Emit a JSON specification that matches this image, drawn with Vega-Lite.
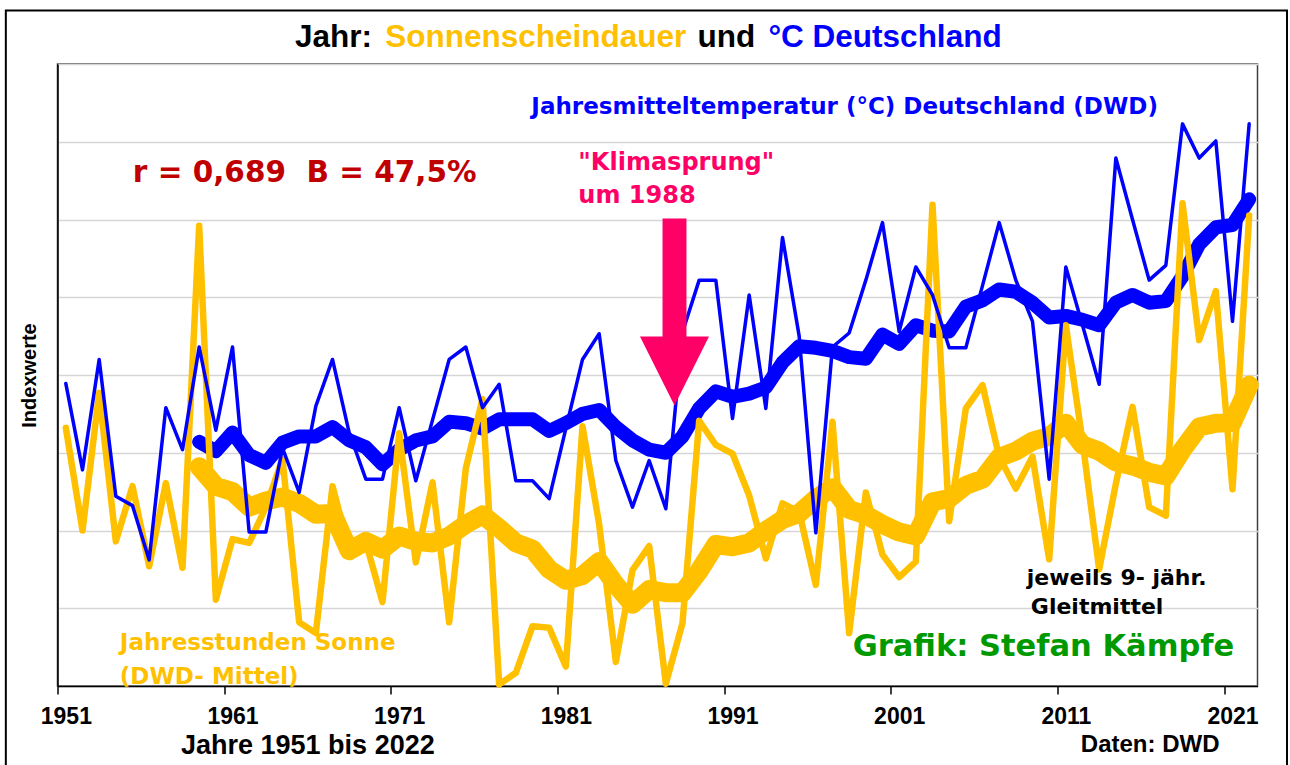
{
  "$schema": "https://vega.github.io/schema/vega-lite/v6.json",
  "width": 1200,
  "height": 622,
  "autosize": {"type": "none"},
  "padding": {"left": 57.5, "top": 64, "right": 32.5, "bottom": 79},
  "background": "white",
  "config": {"view": {"stroke": "#404040", "strokeWidth": 1.5}, "font": "Liberation Sans"},
  "datasets": {
    "series": [
      {"year": 1951, "temp": 3.89, "sun": 3.32, "tempAvg": null, "sunAvg": null},
      {"year": 1952, "temp": 2.78, "sun": 2.00, "tempAvg": null, "sunAvg": null},
      {"year": 1953, "temp": 4.20, "sun": 3.77, "tempAvg": null, "sunAvg": null},
      {"year": 1954, "temp": 2.44, "sun": 1.86, "tempAvg": null, "sunAvg": null},
      {"year": 1955, "temp": 2.32, "sun": 2.57, "tempAvg": null, "sunAvg": null},
      {"year": 1956, "temp": 1.62, "sun": 1.54, "tempAvg": null, "sunAvg": null},
      {"year": 1957, "temp": 3.58, "sun": 2.61, "tempAvg": null, "sunAvg": null},
      {"year": 1958, "temp": 3.04, "sun": 1.52, "tempAvg": null, "sunAvg": null},
      {"year": 1959, "temp": 4.36, "sun": 5.92, "tempAvg": 3.14, "sunAvg": 2.82},
      {"year": 1960, "temp": 3.29, "sun": 1.11, "tempAvg": 3.02, "sunAvg": 2.57},
      {"year": 1961, "temp": 4.36, "sun": 1.89, "tempAvg": 3.26, "sunAvg": 2.50},
      {"year": 1962, "temp": 1.98, "sun": 1.84, "tempAvg": 2.97, "sunAvg": 2.30},
      {"year": 1963, "temp": 1.98, "sun": 2.30, "tempAvg": 2.87, "sunAvg": 2.38},
      {"year": 1964, "temp": 3.06, "sun": 2.92, "tempAvg": 3.13, "sunAvg": 2.43},
      {"year": 1965, "temp": 2.49, "sun": 0.82, "tempAvg": 3.21, "sunAvg": 2.35},
      {"year": 1966, "temp": 3.60, "sun": 0.68, "tempAvg": 3.21, "sunAvg": 2.21},
      {"year": 1967, "temp": 4.20, "sun": 2.57, "tempAvg": 3.33, "sunAvg": 2.22},
      {"year": 1968, "temp": 3.26, "sun": 1.75, "tempAvg": 3.16, "sunAvg": 1.74},
      {"year": 1969, "temp": 2.66, "sun": 1.85, "tempAvg": 3.07, "sunAvg": 1.86},
      {"year": 1970, "temp": 2.66, "sun": 1.08, "tempAvg": 2.85, "sunAvg": 1.76},
      {"year": 1971, "temp": 3.58, "sun": 3.25, "tempAvg": 3.04, "sunAvg": 1.93},
      {"year": 1972, "temp": 2.64, "sun": 1.59, "tempAvg": 3.16, "sunAvg": 1.86},
      {"year": 1973, "temp": 3.42, "sun": 2.62, "tempAvg": 3.21, "sunAvg": 1.84},
      {"year": 1974, "temp": 4.20, "sun": 0.82, "tempAvg": 3.40, "sunAvg": 1.93},
      {"year": 1975, "temp": 4.36, "sun": 2.80, "tempAvg": 3.38, "sunAvg": 2.08},
      {"year": 1976, "temp": 3.58, "sun": 3.69, "tempAvg": 3.31, "sunAvg": 2.20},
      {"year": 1977, "temp": 3.88, "sun": 0.02, "tempAvg": 3.43, "sunAvg": 2.03},
      {"year": 1978, "temp": 2.64, "sun": 0.17, "tempAvg": 3.43, "sunAvg": 1.84},
      {"year": 1979, "temp": 2.64, "sun": 0.77, "tempAvg": 3.43, "sunAvg": 1.76},
      {"year": 1980, "temp": 2.41, "sun": 0.75, "tempAvg": 3.28, "sunAvg": 1.50},
      {"year": 1981, "temp": 3.31, "sun": 0.25, "tempAvg": 3.38, "sunAvg": 1.36},
      {"year": 1982, "temp": 4.20, "sun": 3.34, "tempAvg": 3.50, "sunAvg": 1.42},
      {"year": 1983, "temp": 4.53, "sun": 2.08, "tempAvg": 3.55, "sunAvg": 1.60},
      {"year": 1984, "temp": 2.90, "sun": 0.31, "tempAvg": 3.33, "sunAvg": 1.30},
      {"year": 1985, "temp": 2.30, "sun": 1.49, "tempAvg": 3.16, "sunAvg": 1.05},
      {"year": 1986, "temp": 2.90, "sun": 1.80, "tempAvg": 3.04, "sunAvg": 1.24},
      {"year": 1987, "temp": 2.28, "sun": 0.03, "tempAvg": 3.00, "sunAvg": 1.20},
      {"year": 1988, "temp": 4.55, "sun": 0.81, "tempAvg": 3.21, "sunAvg": 1.20},
      {"year": 1989, "temp": 5.22, "sun": 3.41, "tempAvg": 3.57, "sunAvg": 1.48},
      {"year": 1990, "temp": 5.22, "sun": 3.10, "tempAvg": 3.79, "sunAvg": 1.82},
      {"year": 1991, "temp": 3.44, "sun": 2.99, "tempAvg": 3.72, "sunAvg": 1.79},
      {"year": 1992, "temp": 5.03, "sun": 2.45, "tempAvg": 3.76, "sunAvg": 1.84},
      {"year": 1993, "temp": 3.57, "sun": 1.64, "tempAvg": 3.84, "sunAvg": 2.00},
      {"year": 1994, "temp": 5.77, "sun": 2.35, "tempAvg": 4.16, "sunAvg": 2.14},
      {"year": 1995, "temp": 4.50, "sun": 2.24, "tempAvg": 4.37, "sunAvg": 2.22},
      {"year": 1996, "temp": 1.97, "sun": 1.30, "tempAvg": 4.35, "sunAvg": 2.41},
      {"year": 1997, "temp": 4.36, "sun": 3.40, "tempAvg": 4.31, "sunAvg": 2.55},
      {"year": 1998, "temp": 4.54, "sun": 0.68, "tempAvg": 4.23, "sunAvg": 2.27},
      {"year": 1999, "temp": 5.22, "sun": 2.49, "tempAvg": 4.21, "sunAvg": 2.20},
      {"year": 2000, "temp": 5.96, "sun": 1.69, "tempAvg": 4.52, "sunAvg": 2.08},
      {"year": 2001, "temp": 4.56, "sun": 1.40, "tempAvg": 4.40, "sunAvg": 1.98},
      {"year": 2002, "temp": 5.39, "sun": 1.60, "tempAvg": 4.64, "sunAvg": 1.93},
      {"year": 2003, "temp": 5.03, "sun": 6.19, "tempAvg": 4.57, "sunAvg": 2.37},
      {"year": 2004, "temp": 4.35, "sun": 2.12, "tempAvg": 4.56, "sunAvg": 2.41},
      {"year": 2005, "temp": 4.35, "sun": 3.57, "tempAvg": 4.88, "sunAvg": 2.58},
      {"year": 2006, "temp": 5.15, "sun": 3.87, "tempAvg": 4.96, "sunAvg": 2.66},
      {"year": 2007, "temp": 5.96, "sun": 2.95, "tempAvg": 5.10, "sunAvg": 2.94},
      {"year": 2008, "temp": 5.22, "sun": 2.54, "tempAvg": 5.07, "sunAvg": 3.02},
      {"year": 2009, "temp": 4.69, "sun": 2.95, "tempAvg": 4.93, "sunAvg": 3.15},
      {"year": 2010, "temp": 2.66, "sun": 1.63, "tempAvg": 4.74, "sunAvg": 3.21},
      {"year": 2011, "temp": 5.39, "sun": 4.64, "tempAvg": 4.76, "sunAvg": 3.38},
      {"year": 2012, "temp": 4.64, "sun": 3.15, "tempAvg": 4.71, "sunAvg": 3.10},
      {"year": 2013, "temp": 3.88, "sun": 1.50, "tempAvg": 4.64, "sunAvg": 3.02},
      {"year": 2014, "temp": 6.79, "sun": 2.60, "tempAvg": 4.93, "sunAvg": 2.88},
      {"year": 2015, "temp": 6.00, "sun": 3.59, "tempAvg": 5.03, "sunAvg": 2.83},
      {"year": 2016, "temp": 5.22, "sun": 2.30, "tempAvg": 4.93, "sunAvg": 2.75},
      {"year": 2017, "temp": 5.41, "sun": 2.19, "tempAvg": 4.95, "sunAvg": 2.70},
      {"year": 2018, "temp": 7.23, "sun": 6.21, "tempAvg": 5.27, "sunAvg": 3.04},
      {"year": 2019, "temp": 6.79, "sun": 4.45, "tempAvg": 5.68, "sunAvg": 3.33},
      {"year": 2020, "temp": 7.01, "sun": 5.08, "tempAvg": 5.90, "sunAvg": 3.38},
      {"year": 2021, "temp": 4.69, "sun": 2.53, "tempAvg": 5.93, "sunAvg": 3.39},
      {"year": 2022, "temp": 7.23, "sun": 6.05, "tempAvg": 6.26, "sunAvg": 3.87}
    ]
  },
  "layer": [
    {
      "data": {"name": "series"},
      "mark": {"type": "line", "color": "#0000FF", "strokeWidth": 14, "strokeJoin": "round", "strokeCap": "round"},
      "encoding": {
        "x": {
          "field": "year", "type": "quantitative",
          "scale": {"domain": [1950.5, 2022.5], "nice": false, "zero": false},
          "axis": {
            "title": null,
            "values": [1950.5, 1960.5, 1970.5, 1980.5, 1990.5, 2000.5, 2010.5, 2020.5],
            "labelExpr": "format(datum.value + 0.5, 'd')",
            "labelOffset": 8.33,
            "grid": false,
            "tickColor": "black", "tickSize": 8, "tickWidth": 1.5,
            "domainColor": "black", "domainWidth": 1.5,
            "labelFont": "Liberation Sans", "labelFontSize": 23, "labelFontWeight": "bold",
            "labelColor": "black", "labelPadding": 11, "labelFlush": false, "labelOverlap": false
          }
        },
        "y": {
          "field": "tempAvg", "type": "quantitative",
          "scale": {"domain": [0, 8], "nice": false, "zero": true},
          "axis": {
            "title": "Indexwerte",
            "values": [0, 1, 2, 3, 4, 5, 6, 7, 8],
            "labels": false, "ticks": false,
            "grid": true, "gridColor": "#D6D6D6", "gridWidth": 1.3,
            "domainColor": "black", "domainWidth": 1.5,
            "titleFont": "Liberation Sans", "titleFontSize": 20, "titleFontWeight": "bold",
            "titleColor": "black", "titlePadding": 18
          }
        }
      }
    },
    {
      "data": {"name": "series"},
      "mark": {"type": "line", "color": "#FFC000", "strokeWidth": 19, "strokeJoin": "round", "strokeCap": "round"},
      "encoding": {
        "x": {"field": "year", "type": "quantitative"},
        "y": {"field": "sunAvg", "type": "quantitative"}
      }
    },
    {
      "data": {"name": "series"},
      "mark": {"type": "line", "color": "#FFC000", "strokeWidth": 6.5, "strokeJoin": "round", "strokeCap": "round"},
      "encoding": {
        "x": {"field": "year", "type": "quantitative"},
        "y": {"field": "sun", "type": "quantitative"}
      }
    },
    {
      "data": {"name": "series"},
      "mark": {"type": "line", "color": "#0000FF", "strokeWidth": 3.5, "strokeJoin": "round", "strokeCap": "round"},
      "encoding": {
        "x": {"field": "year", "type": "quantitative"},
        "y": {"field": "temp", "type": "quantitative"}
      }
    },
    {
      "data": {"values": [{}]},
      "mark": {"type": "point", "shape": "M-0.128,-1L0.128,-1L0.128,0.262L0.369,0.262L0,1L-0.369,0.262L-0.128,0.262Z", "size": 34969, "filled": true, "color": "#FF0066", "opacity": 1, "strokeWidth": 0},
      "encoding": {"x": {"datum": 1987.52, "type": "quantitative"}, "y": {"datum": 4.81, "type": "quantitative"}}
    },
    {
      "data": {"values": [{}]},
      "mark": {"type": "rect", "fill": null, "fillOpacity": 0, "stroke": "black", "strokeWidth": 2, "clip": false},
      "encoding": {
        "x": {"datum": 1947.40, "type": "quantitative"}, "x2": {"datum": 2024.27},
        "y": {"datum": 8.689, "type": "quantitative"}, "y2": {"datum": -1.2}
      }
    },
    {
      "data": {"values": [{}]},
      "mark": {"type": "text", "text": "Jahr:", "font": "Liberation Sans", "fontWeight": "bold", "fontSize": 31.5, "color": "black", "align": "left", "baseline": "middle"},
      "encoding": {"x": {"datum": 1964.75, "type": "quantitative"}, "y": {"datum": 8.329, "type": "quantitative"}}
    },
    {
      "data": {"values": [{}]},
      "mark": {"type": "text", "text": "Sonnenscheindauer", "font": "Liberation Sans", "fontWeight": "bold", "fontSize": 31.5, "color": "#FFC000", "align": "left", "baseline": "middle"},
      "encoding": {"x": {"datum": 1970.16, "type": "quantitative"}, "y": {"datum": 8.329, "type": "quantitative"}}
    },
    {
      "data": {"values": [{}]},
      "mark": {"type": "text", "text": "und", "font": "Liberation Sans", "fontWeight": "bold", "fontSize": 31.5, "color": "black", "align": "left", "baseline": "middle"},
      "encoding": {"x": {"datum": 1988.90, "type": "quantitative"}, "y": {"datum": 8.329, "type": "quantitative"}}
    },
    {
      "data": {"values": [{}]},
      "mark": {"type": "text", "text": "°C Deutschland", "font": "Liberation Sans", "fontWeight": "bold", "fontSize": 31.5, "color": "#0000FF", "align": "left", "baseline": "middle"},
      "encoding": {"x": {"datum": 1993.16, "type": "quantitative"}, "y": {"datum": 8.329, "type": "quantitative"}}
    },
    {
      "data": {"values": [{}]},
      "mark": {"type": "text", "text": "Jahresmitteltemperatur (°C) Deutschland (DWD)", "font": "DejaVu Sans", "fontWeight": "bold", "fontSize": 23, "color": "#0000FF", "align": "left", "baseline": "middle"},
      "encoding": {"x": {"datum": 1978.93, "type": "quantitative"}, "y": {"datum": 7.442, "type": "quantitative"}}
    },
    {
      "data": {"values": [{}]},
      "mark": {"type": "text", "text": "r = 0,689 \u00a0B = 47,5%", "font": "DejaVu Sans", "fontWeight": "bold", "fontSize": 29.5, "color": "#C00000", "align": "left", "baseline": "middle"},
      "encoding": {"x": {"datum": 1955.02, "type": "quantitative"}, "y": {"datum": 6.594, "type": "quantitative"}}
    },
    {
      "data": {"values": [{}]},
      "mark": {"type": "text", "text": "\"Klimasprung\"", "font": "DejaVu Sans", "fontWeight": "bold", "fontSize": 24, "color": "#FF0066", "align": "left", "baseline": "middle"},
      "encoding": {"x": {"datum": 1981.75, "type": "quantitative"}, "y": {"datum": 6.722, "type": "quantitative"}}
    },
    {
      "data": {"values": [{}]},
      "mark": {"type": "text", "text": "um 1988", "font": "DejaVu Sans", "fontWeight": "bold", "fontSize": 24, "color": "#FF0066", "align": "left", "baseline": "middle"},
      "encoding": {"x": {"datum": 1981.75, "type": "quantitative"}, "y": {"datum": 6.298, "type": "quantitative"}}
    },
    {
      "data": {"values": [{}]},
      "mark": {"type": "text", "text": "Jahresstunden Sonne", "font": "DejaVu Sans", "fontWeight": "bold", "fontSize": 23, "color": "#FFC000", "align": "left", "baseline": "middle"},
      "encoding": {"x": {"datum": 1954.24, "type": "quantitative"}, "y": {"datum": 0.553, "type": "quantitative"}}
    },
    {
      "data": {"values": [{}]},
      "mark": {"type": "text", "text": "(DWD- Mittel)", "font": "DejaVu Sans", "fontWeight": "bold", "fontSize": 23, "color": "#FFC000", "align": "left", "baseline": "middle"},
      "encoding": {"x": {"datum": 1954.24, "type": "quantitative"}, "y": {"datum": 0.116, "type": "quantitative"}}
    },
    {
      "data": {"values": [{}]},
      "mark": {"type": "text", "text": "jeweils 9- jähr.", "font": "DejaVu Sans", "fontWeight": "bold", "fontSize": 22, "color": "black", "align": "left", "baseline": "middle"},
      "encoding": {"x": {"datum": 2008.66, "type": "quantitative"}, "y": {"datum": 1.388, "type": "quantitative"}}
    },
    {
      "data": {"values": [{}]},
      "mark": {"type": "text", "text": "Gleitmittel", "font": "DejaVu Sans", "fontWeight": "bold", "fontSize": 22, "color": "black", "align": "left", "baseline": "middle"},
      "encoding": {"x": {"datum": 2008.90, "type": "quantitative"}, "y": {"datum": 1.015, "type": "quantitative"}}
    },
    {
      "data": {"values": [{}]},
      "mark": {"type": "text", "text": "Grafik: Stefan Kämpfe", "font": "DejaVu Sans", "fontWeight": "bold", "fontSize": 30.5, "color": "#009900", "align": "left", "baseline": "middle"},
      "encoding": {"x": {"datum": 1998.21, "type": "quantitative"}, "y": {"datum": 0.501, "type": "quantitative"}}
    },
    {
      "data": {"values": [{}]},
      "mark": {"type": "text", "text": "Jahre 1951 bis 2022", "font": "Liberation Sans", "fontWeight": "bold", "fontSize": 27, "color": "black", "align": "left", "baseline": "middle"},
      "encoding": {"x": {"datum": 1957.91, "type": "quantitative"}, "y": {"datum": -0.771, "type": "quantitative"}}
    },
    {
      "data": {"values": [{}]},
      "mark": {"type": "text", "text": "Daten: DWD", "font": "Liberation Sans", "fontWeight": "bold", "fontSize": 24, "color": "black", "align": "left", "baseline": "middle"},
      "encoding": {"x": {"datum": 2011.90, "type": "quantitative"}, "y": {"datum": -0.758, "type": "quantitative"}}
    }
  ]
}
